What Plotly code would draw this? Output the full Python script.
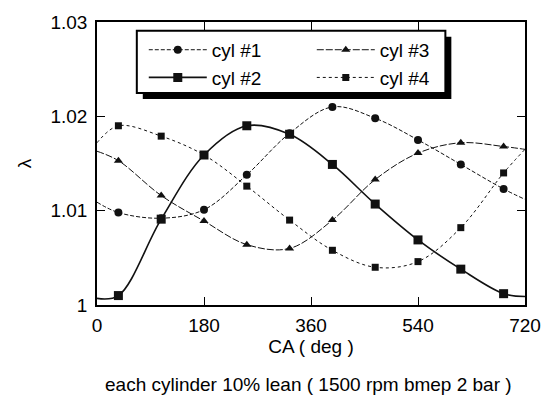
import plotly.graph_objects as go

# crank angle (deg) at the plotted markers, plus the curve end points
ca_marks = [36, 108, 180, 252, 324, 396, 468, 540, 612, 684]
ca_start, ca_end = 0, 720

# excess air ratio lambda per cylinder at the marker angles
cyl1 = [1.0098, 1.0092, 1.0101, 1.0138, 1.0182, 1.0210, 1.0198, 1.0175, 1.0149, 1.0123]
cyl2 = [1.0010, 1.0091, 1.0159, 1.0190, 1.0181, 1.0149, 1.0107, 1.0069, 1.0038, 1.0012]
cyl3 = [1.0153, 1.0116, 1.0089, 1.0064, 1.0060, 1.0090, 1.0133, 1.0161, 1.0172, 1.0168]
cyl4 = [1.0190, 1.0179, 1.0159, 1.0126, 1.0090, 1.0058, 1.0040, 1.0046, 1.0082, 1.0140]

# lambda at 0 deg and 720 deg
cyl1_ends = [1.0109, 1.0112]
cyl2_ends = [1.0007, 1.0009]
cyl3_ends = [1.0163, 1.0165]
cyl4_ends = [1.0172, 1.0165]

x_ticks = [0, 180, 360, 540, 720]
y_ticks = [1.0, 1.01, 1.02, 1.03]
y_tick_text = ["1", "1.01", "1.02", "1.03"]

series = [
    ("cyl #1", cyl1, cyl1_ends, dict(symbol="circle", size=8), dict(width=1, dash="4px,2px"), 1),
    ("cyl #2", cyl2, cyl2_ends, dict(symbol="square", size=9), dict(width=1.6, dash="solid"), 3),
    ("cyl #3", cyl3, cyl3_ends, dict(symbol="triangle-up", size=8), dict(width=1, dash="7px,2px"), 2),
    ("cyl #4", cyl4, cyl4_ends, dict(symbol="square", size=7), dict(width=1, dash="dot"), 4),
]

FONT = "Liberation Sans, Arial, sans-serif"
INK = "#111111"

fig = go.Figure()
for name, vals, ends, mk, ln, rank in series:
    full_x = [ca_start] + ca_marks + [ca_end]
    full_y = [ends[0]] + vals + [ends[1]]
    line = dict(color=INK, shape="spline", smoothing=1.0, **ln)
    marker = dict(color=INK, line=dict(width=0), **mk)
    # smooth curve across the full cycle
    fig.add_trace(go.Scatter(x=full_x, y=full_y, mode="lines", line=line,
                             showlegend=False, hoverinfo="skip"))
    # markers at the sampled angles
    fig.add_trace(go.Scatter(x=ca_marks, y=vals, mode="markers", marker=marker,
                             showlegend=False, name=name))
    # legend entry (line + marker sample)
    fig.add_trace(go.Scatter(x=[None], y=[None], mode="lines+markers", name=name,
                             line=line, marker=marker, legendrank=rank))

W, H = 553, 396
ML, MR, MT, MB = 97, 26, 18, 91
PW, PH = W - ML - MR, H - MT - MB


def px_x(px):
    return (px - ML) / PW


def px_y(py):
    return (H - MB - py) / PH


# legend frame with drop shadow
box = dict(x0=137, x1=447, y0=27, y1=90)
shadow = 6
fig.add_shape(type="rect", xref="paper", yref="paper", layer="above",
              x0=px_x(box["x0"] + shadow), x1=px_x(box["x1"] + shadow),
              y0=px_y(box["y1"] + shadow), y1=px_y(box["y0"] + shadow),
              fillcolor="black", line=dict(width=0))
fig.add_shape(type="rect", xref="paper", yref="paper", layer="above",
              x0=px_x(box["x0"]), x1=px_x(box["x1"]),
              y0=px_y(box["y1"]), y1=px_y(box["y0"]),
              fillcolor="white", line=dict(color="black", width=2))

axis_common = dict(
    showgrid=False, zeroline=False, showline=True, linecolor="black", linewidth=1.5,
    mirror="ticks", ticks="inside", ticklen=8, tickwidth=1, tickcolor="black",
    tickfont=dict(family=FONT, size=19, color="black"),
)

fig.update_layout(
    width=W, height=H,
    margin=dict(l=ML, r=MR, t=MT, b=MB, pad=0),
    paper_bgcolor="white", plot_bgcolor="white",
    font=dict(family=FONT, size=19, color="black"),
    xaxis=dict(range=[0, 720], tickvals=x_ticks, ticklabelstandoff=2,
               title=dict(text="CA ( deg )", font=dict(size=19), standoff=2),
               **axis_common),
    yaxis=dict(range=[1.0, 1.03], tickvals=y_ticks, ticktext=y_tick_text,
               ticklabelstandoff=4,
               title=dict(text="λ", font=dict(size=19), standoff=14),
               **axis_common),
    legend=dict(orientation="h", x=px_x(144), y=px_y(27), xanchor="left", yanchor="top",
                bgcolor="rgba(0,0,0,0)", borderwidth=0, entrywidth=95,
                entrywidthmode="pixels", itemwidth=58, traceorder="normal",
                tracegroupgap=0,
                font=dict(family=FONT, size=19, color="black")),
    annotations=[dict(text="each cylinder 10% lean ( 1500 rpm bmep 2 bar )",
                      xref="paper", yref="paper", x=px_x(309), y=px_y(386),
                      xanchor="center", yanchor="middle", showarrow=False,
                      font=dict(family=FONT, size=19, color="black"))],
)

fig.write_html("out.html")
